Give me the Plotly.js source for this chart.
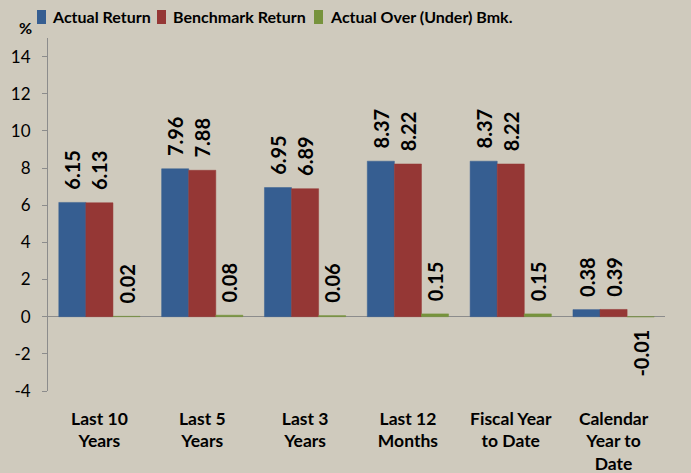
<!DOCTYPE html>
<html>
<head>
<meta charset="utf-8">
<script src="https://cdn.plot.ly/plotly-3.0.1.min.js"></script>
<style>html,body{margin:0;padding:0;background:#cfcabd;}#chart{width:691px;height:473px;}</style>
</head>
<body>
<div id="chart"></div>
<script>
const categories = ["Last 10<br>Years", "Last 5<br>Years", "Last 3<br>Years", "Last 12<br>Months", "Fiscal Year<br>to Date", "Calendar<br>Year to<br>Date"];
const actualReturn = [6.15, 7.96, 6.95, 8.37, 8.37, 0.38];
const benchmarkReturn = [6.13, 7.88, 6.89, 8.22, 8.22, 0.39];
const overUnder = [0.02, 0.08, 0.06, 0.15, 0.15, -0.01];
const seriesNames = ["Actual Return", "Benchmark Return", "Actual Over (Under) Bmk."];
const seriesColors = ["#365e91", "#953735", "#77933c"];
const yTicks = [-4, -2, 0, 2, 4, 6, 8, 10, 12, 14];

const FONT = "Lato, 'Open Sans', sans-serif";
const W = 691, H = 473;
const M = {l: 48, r: 26, t: 38, b: 82};
const PW = W - M.l - M.r, PH = H - M.t - M.b;
const px = x => (x - M.l) / PW;   // pixel -> paper
const py = y => (H - M.b - y) / PH;

const pad = "\u00a0\u00a0";
function labels(vals) {
  return vals.map(v => v < 0 ? v.toFixed(2) + pad : pad + v.toFixed(2));
}
function bar(vals, name, color) {
  return {
    type: "bar", x: categories, y: vals, name: name,
    marker: {color: color, line: {color: color, width: 0.5}},
    text: labels(vals), textposition: "outside", textangle: -90,
    constraintext: "none", cliponaxis: false,
    textfont: {family: FONT, size: 20, color: "#000", weight: "bold"},
    hoverinfo: "skip"
  };
}
const data = seriesNames.map((n, i) => bar([actualReturn, benchmarkReturn, overUnder][i], n, seriesColors[i]));

// legend drawn in the header row (square + bold label)
const legendSquareX = [37, 157, 314];
const legendTextX = [50, 171, 328];
const shapes = [], annotations = [];
seriesNames.forEach((n, i) => {
  shapes.push({type: "rect", xref: "paper", yref: "paper",
    x0: px(legendSquareX[i]), x1: px(legendSquareX[i] + 9), y0: py(24), y1: py(10),
    fillcolor: seriesColors[i], line: {width: 0}});
  annotations.push({text: n, xref: "paper", yref: "paper", x: px(legendTextX[i]), y: py(17),
    xanchor: "left", yanchor: "middle", showarrow: false,
    font: {family: FONT, size: 16, weight: "bold", color: "#000"}});
});
annotations.push({
  text: "%", xref: "paper", yref: "paper", x: px(25), y: py(27),
  xanchor: "center", yanchor: "middle", showarrow: false,
  font: {family: FONT, size: 16, weight: "bold", color: "#000"}
});

const layout = {
  width: W, height: H,
  margin: M,
  paper_bgcolor: "#cfcabd", plot_bgcolor: "#cfcabd",
  barmode: "group", bargap: 0.21, bargroupgap: 0,
  font: {family: FONT, color: "#000"},
  showlegend: false,
  xaxis: {
    type: "category", showline: false, showgrid: false, ticks: "",
    ticklabelstandoff: 15,
    tickfont: {family: FONT, size: 17.5, weight: "bold"}, fixedrange: true
  },
  yaxis: {
    range: [-4, 15], tickvals: yTicks, ticktext: yTicks.map(String),
    showline: true, linecolor: "#8c8c8c", linewidth: 1,
    ticks: "outside", ticklen: 5, tickcolor: "#8c8c8c",
    ticklabelstandoff: 8,
    showgrid: false, zeroline: true, zerolinecolor: "#8c8c8c", zerolinewidth: 1,
    tickfont: {family: FONT, size: 17}, fixedrange: true
  },
  shapes: shapes,
  annotations: annotations
};
Plotly.newPlot("chart", data, layout, {displayModeBar: false, staticPlot: true});
</script>
</body>
</html>
